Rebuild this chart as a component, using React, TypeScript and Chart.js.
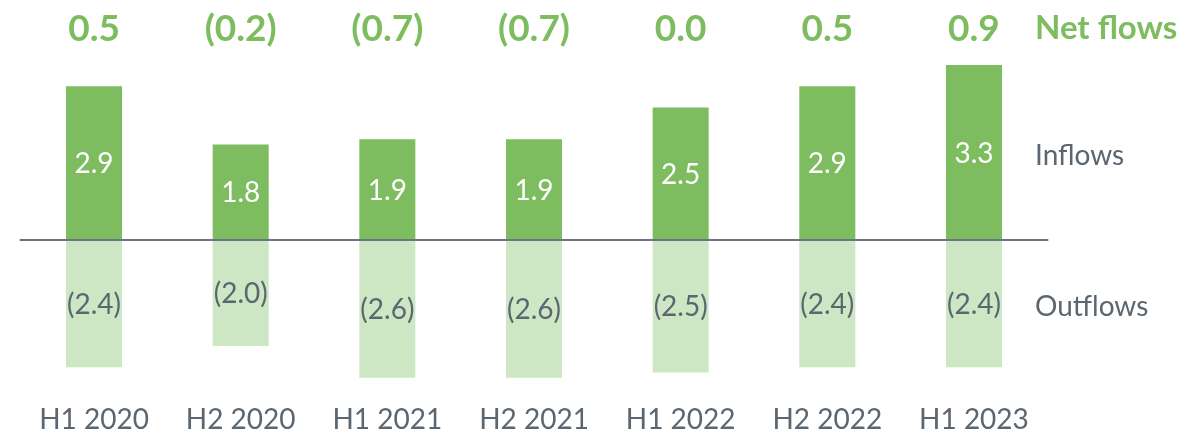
import React, { useEffect, useRef } from "react";
import { Chart, registerables } from "chart.js";

Chart.register(...registerables);

const categories = ["H1 2020", "H2 2020", "H1 2021", "H2 2021", "H1 2022", "H2 2022", "H1 2023"];
const inflows = [2.9, 1.8, 1.9, 1.9, 2.5, 2.9, 3.3];
const outflows = [-2.4, -2.0, -2.6, -2.6, -2.5, -2.4, -2.4];
const netFlows = [0.5, -0.2, -0.7, -0.7, 0.0, 0.5, 0.9];
const seriesNames = ["Net flows", "Inflows", "Outflows"];

const GREEN = "#7dbc5f";
const LIGHT_GREEN = "#cde6c3";
const GRAY = "#5b6670";
const LINE = "#6b7581";
const FONT = "Lato";

const fmt = (v: number) => (v < 0 ? `(${Math.abs(v).toFixed(1)})` : v.toFixed(1));

const labelsPlugin = {
  id: "flowLabels",
  afterDatasetsDraw(chart: any) {
    const { ctx, chartArea, scales } = chart;
    const x = scales.x;
    const y = scales.y;
    const zero = y.getPixelForValue(0);
    ctx.save();
    // baseline
    ctx.strokeStyle = LINE;
    ctx.lineWidth = 2;
    ctx.beginPath();
    ctx.moveTo(chartArea.left - 1, zero);
    ctx.lineTo(chartArea.right + 1, zero);
    ctx.stroke();

    ctx.textAlign = "center";
    ctx.textBaseline = "middle";
    (chart.data.labels as string[]).forEach((cat, i) => {
      const cx = x.getPixelForValue(i);
      // inflow value
      const top = y.getPixelForValue(inflows[i]);
      ctx.font = `28px ${FONT}`;
      ctx.fillStyle = "#ffffff";
      ctx.fillText(fmt(inflows[i]), cx, (top + zero) / 2 + 1);
      // outflow value
      const bot = y.getPixelForValue(outflows[i]);
      ctx.fillStyle = GRAY;
      ctx.fillText(fmt(outflows[i]), cx, (bot + zero) / 2 + 1);
      // category label
      ctx.fillText(cat, cx, 420);
      // net flow
      ctx.font = `bold 37px ${FONT}`;
      ctx.fillStyle = GREEN;
      ctx.fillText(fmt(netFlows[i]), cx, 29);
    });

    // right-side series names
    const lx = 1035;
    ctx.textAlign = "left";
    ctx.font = `bold 33px ${FONT}`;
    ctx.fillStyle = GREEN;
    ctx.fillText(seriesNames[0], lx, 28);
    ctx.font = `28px ${FONT}`;
    ctx.fillStyle = GRAY;
    ctx.fillText(seriesNames[1], lx, 156);
    ctx.fillText(seriesNames[2], lx, 307);
    ctx.restore();
  },
};

export default function App() {
  const ref = useRef<HTMLCanvasElement | null>(null);
  useEffect(() => {
    if (!ref.current) return;
    const chart = new Chart(ref.current, {
      type: "bar",
      data: {
        labels: categories,
        datasets: [
          {
            label: seriesNames[1],
            data: inflows,
            backgroundColor: GREEN,
            borderWidth: 0,
            barPercentage: 0.382,
            categoryPercentage: 1,
          },
          {
            label: seriesNames[2],
            data: outflows,
            backgroundColor: LIGHT_GREEN,
            borderWidth: 0,
            barPercentage: 0.382,
            categoryPercentage: 1,
          },
        ],
      },
      options: {
        animation: false,
        responsive: false,
        maintainAspectRatio: false,
        layout: { padding: { left: 20.7, right: 148.7, top: 1.5, bottom: 35 } },
        plugins: { legend: { display: false }, tooltip: { enabled: false } },
        scales: {
          x: {
            stacked: true,
            display: false,
            offset: true,
          },
          y: {
            stacked: true,
            display: false,
            min: -3,
            max: 4.5,
          },
        },
      },
      plugins: [labelsPlugin],
    });
    return () => chart.destroy();
  }, []);
  return (
    <div style={{ position: "fixed", left: 0, top: 0, width: 1196, height: 434, background: "#fff" }}>
      <canvas ref={ref} width={1196} height={434} style={{ width: 1196, height: 434 }} />
    </div>
  );
}
